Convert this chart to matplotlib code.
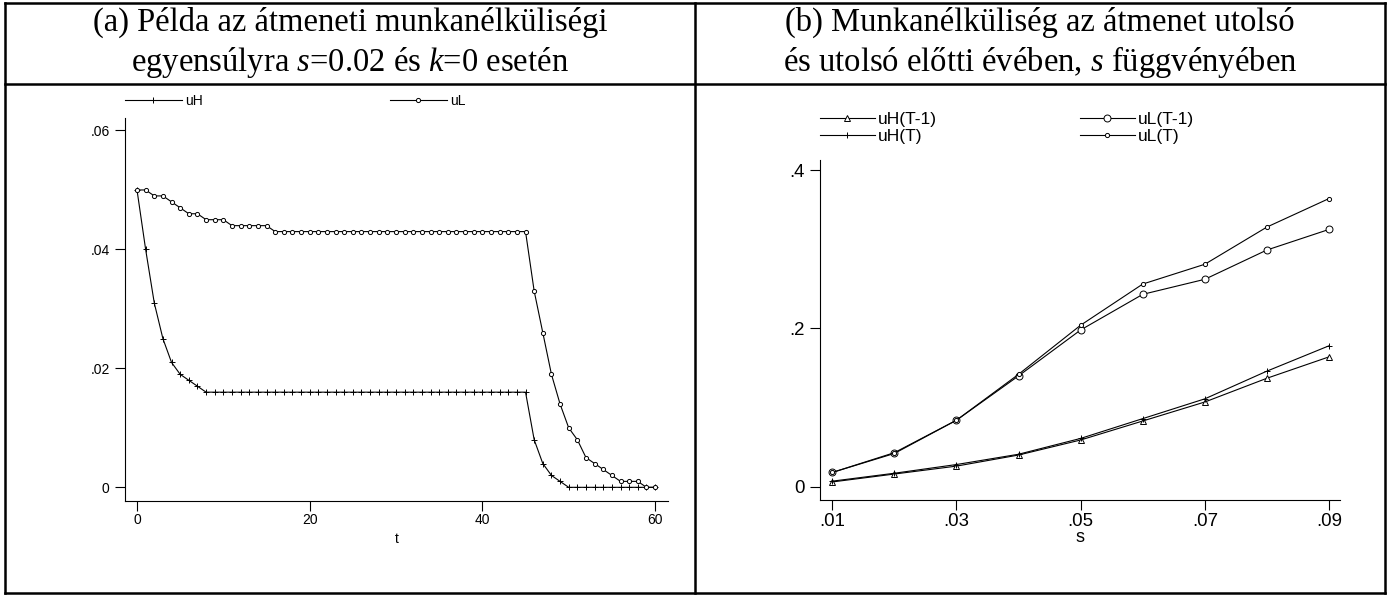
import numpy as np
import matplotlib
matplotlib.use("Agg")
import matplotlib.pyplot as plt
from matplotlib.lines import Line2D

plt.rcParams["font.family"] = ["Liberation Sans", "DejaVu Sans"]
plt.rcParams["mathtext.fontset"] = "custom"
plt.rcParams["mathtext.rm"] = "Liberation Serif"
plt.rcParams["mathtext.it"] = "Liberation Serif:italic"

# (a) transition path, s=0.02, k=0
t = np.arange(61)
uH = [0.050, 0.040, 0.031, 0.025, 0.021, 0.019, 0.018, 0.017,
      0.016, 0.016, 0.016, 0.016, 0.016, 0.016, 0.016, 0.016, 0.016, 0.016,
      0.016, 0.016, 0.016, 0.016, 0.016, 0.016, 0.016, 0.016, 0.016, 0.016,
      0.016, 0.016, 0.016, 0.016, 0.016, 0.016, 0.016, 0.016, 0.016, 0.016,
      0.016, 0.016, 0.016, 0.016, 0.016, 0.016, 0.016, 0.016,
      0.008, 0.004, 0.002, 0.001,
      0, 0, 0, 0, 0, 0, 0, 0, 0, 0, 0]
uL = [0.050, 0.050, 0.049, 0.049, 0.048, 0.047, 0.046, 0.046, 0.045, 0.045, 0.045,
      0.044, 0.044, 0.044, 0.044, 0.044,
      0.043, 0.043, 0.043, 0.043, 0.043, 0.043, 0.043, 0.043, 0.043, 0.043,
      0.043, 0.043, 0.043, 0.043, 0.043, 0.043, 0.043, 0.043, 0.043, 0.043,
      0.043, 0.043, 0.043, 0.043, 0.043, 0.043, 0.043, 0.043, 0.043, 0.043,
      0.033, 0.026, 0.019, 0.014, 0.010, 0.008, 0.005, 0.004, 0.003, 0.002,
      0.001, 0.001, 0.001, 0, 0]
a_xticks = [0, 20, 40, 60]
a_yticks = [0, 0.02, 0.04, 0.06]
a_yticklabels = ["0", ".02", ".04", ".06"]

# (b) last and second-to-last year of the transition, as a function of s
s = [0.01, 0.02, 0.03, 0.04, 0.05, 0.06, 0.07, 0.08, 0.09]
uH_T1 = [0.006, 0.016, 0.026, 0.040, 0.059, 0.083, 0.107, 0.137, 0.164]
uH_T = [0.007, 0.017, 0.028, 0.041, 0.061, 0.086, 0.111, 0.146, 0.178]
uL_T1 = [0.018, 0.042, 0.084, 0.140, 0.198, 0.243, 0.262, 0.299, 0.325]
uL_T = [0.018, 0.043, 0.084, 0.142, 0.204, 0.256, 0.281, 0.328, 0.364]
b_xticks = [0.01, 0.03, 0.05, 0.07, 0.09]
b_xticklabels = [".01", ".03", ".05", ".07", ".09"]
b_yticks = [0, 0.2, 0.4]
b_yticklabels = ["0", ".2", ".4"]

W, H = 1390, 596
fig = plt.figure(figsize=(W / 100, H / 100), dpi=100)


def rect(x0, y0, x1, y1):
    return [x0 / W, 1 - y1 / H, (x1 - x0) / W, (y1 - y0) / H]


def style(ax, size, pad):
    for side in ["top", "right"]:
        ax.spines[side].set_visible(False)
    for side in ["left", "bottom"]:
        ax.spines[side].set_linewidth(0.8)
    ax.tick_params(direction="out", length=7.5, width=0.8, labelsize=size)
    ax.tick_params(axis="y", pad=pad)
    ax.tick_params(axis="x", pad=1.5)


lw = 0.8

# left panel
ax1 = fig.add_axes(rect(125, 118, 668, 501))
l_uH, = ax1.plot(t, uH, color="black", lw=lw, marker="+", ms=4.5, mew=0.7)
l_uL, = ax1.plot(t, uL, color="black", lw=lw, marker="o", ms=3, mew=0.7,
                 mfc="white")
ax1.set_xlim(-1.39, 61.5)
ax1.set_ylim(-0.0023, 0.0621)
ax1.set_xticks(a_xticks)
ax1.set_yticks(a_yticks, a_yticklabels)
ax1.set_xlabel("t", fontsize=10, labelpad=3)
style(ax1, 10, 3.5)

leg_kw = dict(loc="center left", bbox_transform=fig.transFigure, frameon=False,
              borderpad=0, borderaxespad=0)
leg1 = ax1.legend(handles=[l_uH], labels=["uH"], fontsize=10,
                  bbox_to_anchor=(125 / W, 1 - 101 / H), handlelength=4.1,
                  handletextpad=0.25, **leg_kw)
ax1.add_artist(leg1)
ax1.legend(handles=[l_uL], labels=["uL"], fontsize=10,
           bbox_to_anchor=(390 / W, 1 - 101 / H), handlelength=4.1,
           handletextpad=0.25, **leg_kw)

# right panel
ax2 = fig.add_axes(rect(820, 160, 1340, 500))
p1, = ax2.plot(s, uH_T1, color="black", lw=lw, marker="^", ms=5, mew=0.7,
               mfc="white")
p2, = ax2.plot(s, uL_T1, color="black", lw=lw, marker="o", ms=5, mew=0.7,
               mfc="white")
p3, = ax2.plot(s, uH_T, color="black", lw=lw, marker="+", ms=5, mew=0.7)
p4, = ax2.plot(s, uL_T, color="black", lw=lw, marker="o", ms=3, mew=0.7,
               mfc="white")
ax2.set_xlim(0.00802, 0.09177)
ax2.set_ylim(-0.0168, 0.4127)
ax2.set_xticks(b_xticks, b_xticklabels)
ax2.set_yticks(b_yticks, b_yticklabels)
ax2.set_xlabel("s", fontsize=13, labelpad=0)
style(ax2, 13.4, 3.5)

leg2 = ax2.legend(handles=[p1, p3], labels=["uH(T-1)", "uH(T)"], fontsize=12.5,
                  bbox_to_anchor=(820 / W, 1 - 128 / H), handlelength=3.16,
                  handletextpad=0.2, labelspacing=0.1, **leg_kw)
ax2.add_artist(leg2)
ax2.legend(handles=[p2, p4], labels=["uL(T-1)", "uL(T)"], fontsize=12.5,
           bbox_to_anchor=(1080 / W, 1 - 128 / H), handlelength=3.16,
           handletextpad=0.2, labelspacing=0.1, **leg_kw)

# titles
title_kw = dict(ha="center", va="center", fontsize=23.5,
                family=["Liberation Serif", "DejaVu Serif"])
fig.text(350 / W, 1 - 22 / H, "(a) Példa az átmeneti munkanélküliségi", **title_kw)
fig.text(350 / W, 1 - 62 / H, r"egyensúlyra $s$=0.02 és $k$=0 esetén", **title_kw)
fig.text(1040 / W, 1 - 22 / H, "(b) Munkanélküliség az átmenet utolsó", **title_kw)
fig.text(1040 / W, 1 - 62 / H, r"és utolsó előtti évében, $s$ függvényében", **title_kw)

# table frame
frame = [((5, 3), (1385, 3)), ((5, 593), (1385, 593)), ((5, 3), (5, 593)),
         ((1385, 3), (1385, 593)), ((695, 3), (695, 593)), ((5, 84), (1385, 84))]
for (xa, ya), (xb, yb) in frame:
    fig.add_artist(Line2D([xa / W, xb / W], [1 - ya / H, 1 - yb / H],
                          color="black", lw=1.8, transform=fig.transFigure))

fig.savefig("out.png", dpi=100)
